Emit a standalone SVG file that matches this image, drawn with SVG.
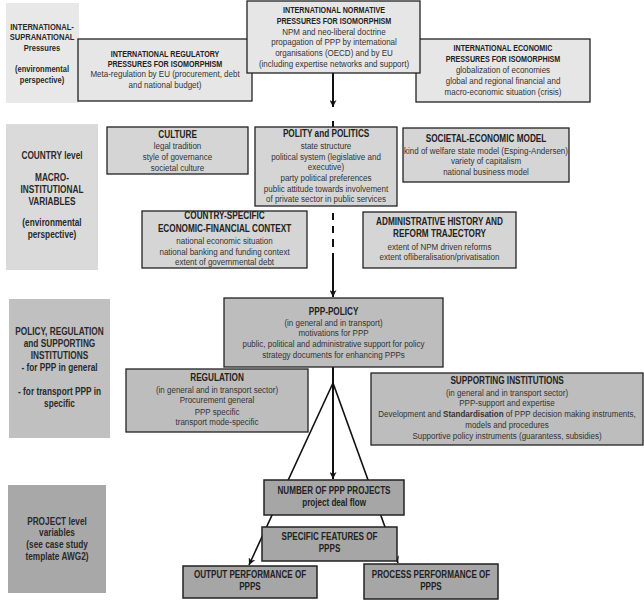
<svg xmlns="http://www.w3.org/2000/svg" width="644" height="600" viewBox="0 0 644 600">
<defs>
<style>
text{font-family:"Liberation Sans",Arial,sans-serif;text-anchor:middle;transform-box:fill-box;transform-origin:center;}
.h1{font-weight:bold;font-size:9.8px;fill:#222;transform:scaleX(0.73);}
.h2{font-weight:bold;font-size:10.8px;fill:#222;transform:scaleX(0.76);}
.h4{font-weight:bold;font-size:10.5px;fill:#222;transform:scaleX(0.77);}
.b{font-size:9.2px;fill:#333;transform:scaleX(0.87);}
.lab1{font-weight:bold;font-size:9.8px;fill:#2a2a2a;transform:scaleX(0.77);}
.lab2{font-weight:bold;font-size:10.6px;fill:#2a2a2a;transform:scaleX(0.78);}
.n1{fill:#e6e6e6;stroke:#222;stroke-width:1.3;}
.n2{fill:#d5d5d5;stroke:#222;stroke-width:1.3;}
.n3{fill:#bdbdbd;stroke:#222;stroke-width:1.3;}
.n4{fill:#a6a6a6;stroke:#222;stroke-width:1.5;}
.c{stroke:#111;fill:none;}
</style>
<marker id="ah" viewBox="0 0 10 10" refX="10" refY="5" markerWidth="7" markerHeight="7" orient="auto" markerUnits="userSpaceOnUse">
<path d="M0,0 L10,5 L0,10 L3,5 z" fill="#111"/>
</marker>
</defs>
<rect width="644" height="600" fill="#fff"/>

<g id="level-labels">
<g id="label-international">
<rect x="6" y="3" width="73" height="100" fill="#e8e8e8"/>
<text class="lab1" x="42" y="30">INTERNATIONAL-</text>
<text class="lab1" x="42" y="40.5">SUPRANATIONAL</text>
<text class="lab1" x="42" y="51">Pressures</text>
<text class="lab1" x="42" y="72">(environmental</text>
<text class="lab1" x="42" y="83">perspective)</text>
</g>
<g id="label-country">
<rect x="6" y="124" width="92" height="146" fill="#dadada"/>
<text class="lab2" x="52" y="159">COUNTRY level</text>
<text class="lab2" x="52" y="181">MACRO-</text>
<text class="lab2" x="52" y="193">INSTITUTIONAL</text>
<text class="lab2" x="52" y="205">VARIABLES</text>
<text class="lab2" x="52" y="226">(environmental</text>
<text class="lab2" x="52" y="238">perspective)</text>
</g>
<g id="label-policy">
<rect x="9" y="299" width="101" height="139" fill="#c0c0c0"/>
<text class="lab2" x="59.5" y="335.5">POLICY, REGULATION</text>
<text class="lab2" x="59.5" y="347.5">and SUPPORTING</text>
<text class="lab2" x="59.5" y="359.5">INSTITUTIONS</text>
<text class="lab2" x="59.5" y="371.5">- for PPP in general</text>
<text class="lab2" x="59.5" y="395.5">- for transport PPP in</text>
<text class="lab2" x="59.5" y="407.5">specific</text>
</g>
<g id="label-project">
<rect x="8" y="485" width="98" height="108" fill="#a8a8a8"/>
<text class="lab2" x="57" y="525">PROJECT level</text>
<text class="lab2" x="57" y="536.5">variables</text>
<text class="lab2" x="57" y="548">(see case study</text>
<text class="lab2" x="57" y="560.5">template AWG2)</text>
</g>
</g>

<g id="connectors">
<line class="c" x1="333" y1="73" x2="333" y2="107" stroke-width="2" marker-end="url(#ah)"/>
<path class="c" d="M333,121 V127 M333,213 V220 M333,226 V233 M333,239 V247" stroke-width="2"/>
<line class="c" x1="333" y1="253" x2="333" y2="297" stroke-width="2" marker-end="url(#ah)"/>
<line class="c" x1="333" y1="367" x2="333" y2="479" stroke-width="2" marker-end="url(#ah)"/>
<line class="c" x1="333" y1="383" x2="249" y2="565" stroke-width="1.6" marker-end="url(#ah)"/>
<line class="c" x1="333" y1="383" x2="398" y2="563" stroke-width="1.6" marker-end="url(#ah)"/>
</g>

<g id="regulatory">
<rect class="n1" x="78" y="39" width="174" height="62"/>
<text class="h1" x="165" y="57">INTERNATIONAL REGULATORY</text>
<text class="h1" x="165" y="67.5">PRESSURES FOR ISOMORPHISM</text>
<text class="b" x="165" y="77.5">Meta-regulation by EU (procurement, debt</text>
<text class="b" x="165" y="88">and national budget)</text>
</g>
<g id="economic">
<rect class="n1" x="416" y="39" width="174" height="63"/>
<text class="h1" x="503" y="51.5">INTERNATIONAL ECONOMIC</text>
<text class="h1" x="503" y="62.5">PRESSURES FOR ISOMORPHISM</text>
<text class="b" x="503" y="73">globalization of economies</text>
<text class="b" x="503" y="84">global and regional financial and</text>
<text class="b" x="503" y="95">macro-economic situation (crisis)</text>
</g>
<g id="normative">
<rect class="n1" x="247" y="1" width="173" height="72"/>
<text class="h1" x="334" y="13">INTERNATIONAL NORMATIVE</text>
<text class="h1" x="334" y="24">PRESSURES FOR ISOMORPHISM</text>
<text class="b" x="334" y="35">NPM and neo-liberal doctrine</text>
<text class="b" x="334" y="45.5">propagation of PPP by international</text>
<text class="b" x="334" y="56.5">organisations (OECD) and by EU</text>
<text class="b" x="334" y="67">(including expertise networks and support)</text>
</g>

<g id="culture">
<rect class="n2" x="107" y="127" width="141" height="47"/>
<text class="h2" x="177.5" y="138.5">CULTURE</text>
<text class="b" x="177.5" y="149">legal tradition</text>
<text class="b" x="177.5" y="160.5">style of governance</text>
<text class="b" x="177.5" y="171">societal culture</text>
</g>
<g id="polity">
<rect class="n2" x="255" y="127" width="142" height="79"/>
<text class="h2" x="326" y="137.5">POLITY and POLITICS</text>
<text class="b" x="326" y="149">state structure</text>
<text class="b" x="326" y="160">political system (legislative and</text>
<text class="b" x="326" y="170">executive)</text>
<text class="b" x="326" y="181">party political preferences</text>
<text class="b" x="326" y="192">public attitude towards involvement</text>
<text class="b" x="326" y="202">of private sector in public services</text>
</g>
<g id="societal">
<rect class="n2" x="403" y="128" width="166" height="54"/>
<text class="h2" x="486" y="142.5">SOCIETAL-ECONOMIC MODEL</text>
<text class="b" x="486" y="154">kind of welfare state model (Esping-Andersen)</text>
<text class="b" x="486" y="164.5">variety of capitalism</text>
<text class="b" x="486" y="175">national business model</text>
</g>
<g id="country-specific">
<rect class="n2" x="142" y="211" width="165" height="57"/>
<text class="h2" x="224.5" y="219.5">COUNTRY-SPECIFIC</text>
<text class="h2" x="224.5" y="232">ECONOMIC-FINANCIAL CONTEXT</text>
<text class="b" x="224.5" y="244">national economic situation</text>
<text class="b" x="224.5" y="255">national banking and funding context</text>
<text class="b" x="224.5" y="265">extent of governmental debt</text>
</g>
<g id="administrative">
<rect class="n2" x="363" y="212" width="153" height="56"/>
<text class="h2" x="439.5" y="225.5">ADMINISTRATIVE HISTORY AND</text>
<text class="h2" x="439.5" y="237.5">REFORM TRAJECTORY</text>
<text class="b" x="439.5" y="250">extent of NPM driven reforms</text>
<text class="b" x="439.5" y="260">extent ofliberalisation/privatisation</text>
</g>

<g id="ppp-policy">
<rect class="n3" x="224" y="298" width="219" height="69"/>
<text class="h2" x="333.5" y="315">PPP-POLICY</text>
<text class="b" x="333.5" y="326.5">(in general and in transport)</text>
<text class="b" x="333.5" y="336.5">motivations for PPP</text>
<text class="b" x="333.5" y="347">public, political and administrative support for policy</text>
<text class="b" x="333.5" y="358">strategy documents for enhancing PPPs</text>
</g>
<g id="regulation">
<rect class="n3" x="126" y="369" width="182" height="63"/>
<text class="h2" x="217" y="381.5">REGULATION</text>
<text class="b" x="217" y="393">(in general and in transport sector)</text>
<text class="b" x="217" y="403">Procurement general</text>
<text class="b" x="217" y="415">PPP specific</text>
<text class="b" x="217" y="425">transport mode-specific</text>
</g>
<g id="supporting">
<rect class="n3" x="371" y="373" width="272" height="72"/>
<text class="h2" x="507" y="384">SUPPORTING INSTITUTIONS</text>
<text class="b" x="507" y="396">(in general and in transport sector)</text>
<text class="b" x="507" y="406.5">PPP-support and expertise</text>
<text class="b" x="507" y="417">Development and <tspan font-weight="bold">Standardisation</tspan> of PPP decision making instruments,</text>
<text class="b" x="507" y="428">models and procedures</text>
<text class="b" x="507" y="439">Supportive policy instruments (guarantess, subsidies)</text>
</g>

<g id="number-projects">
<rect class="n4" x="264" y="480" width="140" height="35"/>
<text class="h4" x="334" y="494.5">NUMBER OF PPP PROJECTS</text>
<text class="h4" x="334" y="506">project deal flow</text>
</g>
<g id="specific-features">
<rect class="n4" x="262" y="527" width="135" height="34"/>
<text class="h4" x="329.5" y="540">SPECIFIC FEATURES OF</text>
<text class="h4" x="329.5" y="552.5">PPPS</text>
</g>
<g id="output-performance">
<rect class="n4" x="183" y="566" width="134" height="32"/>
<text class="h4" x="250" y="578.5">OUTPUT PERFORMANCE OF</text>
<text class="h4" x="250" y="590.5">PPPS</text>
</g>
<g id="process-performance">
<rect class="n4" x="364" y="564" width="134" height="35"/>
<text class="h4" x="431" y="578.5">PROCESS PERFORMANCE OF</text>
<text class="h4" x="431" y="590.5">PPPS</text>
</g>
</svg>
